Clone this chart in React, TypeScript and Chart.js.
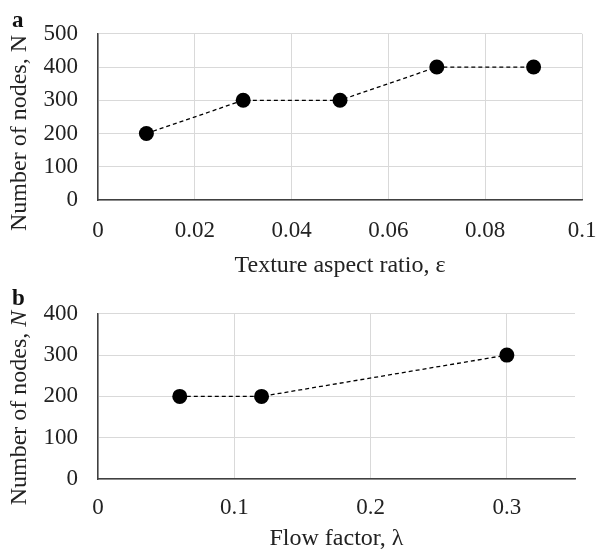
import React, { useEffect, useRef } from "react";
import { Chart, registerables } from "chart.js";

Chart.register(...registerables);

// Panel a data
const aspectRatios = [0.01, 0.03, 0.05, 0.07, 0.09];
const nodesA = [200, 300, 300, 400, 400];
const xTicksA = [0, 0.02, 0.04, 0.06, 0.08, 0.1];
const yTicksA = [0, 100, 200, 300, 400, 500];

// Panel b data
const flowFactors = [0.06, 0.12, 0.3];
const nodesB = [200, 200, 300];
const xTicksB = [0, 0.1, 0.2, 0.3];
const yTicksB = [0, 100, 200, 300, 400];

const FONT = "'Liberation Serif', 'Times New Roman', serif";

const fmt = (v: number) => String(Number(Number(v).toFixed(4)));

const panelTextPlugin = {
  id: "panelText",
  afterDraw(chart: any, _args: any, opts: any) {
    const ctx = chart.ctx;
    ctx.save();
    // panel letter
    ctx.fillStyle = "#111";
    ctx.font = `bold 23px ${FONT}`;
    ctx.textAlign = "left";
    ctx.textBaseline = "alphabetic";
    ctx.fillText(opts.letter, 12, opts.letterBaseline);
    // rotated y title
    ctx.translate(opts.titleX, opts.titleY);
    ctx.rotate(-Math.PI / 2);
    ctx.textBaseline = "middle";
    ctx.fillStyle = "#222";
    const normalFont = `24px ${FONT}`;
    const italicFont = `italic 24px ${FONT}`;
    ctx.font = normalFont;
    const w1 = ctx.measureText(opts.titleMain).width;
    ctx.font = opts.italicN ? italicFont : normalFont;
    const w2 = ctx.measureText(opts.titleVar).width;
    const start = -(w1 + w2) / 2;
    ctx.font = normalFont;
    ctx.fillText(opts.titleMain, start, 0);
    ctx.font = opts.italicN ? italicFont : normalFont;
    ctx.fillText(opts.titleVar, start + w1, 0);
    ctx.restore();
  },
};

function makeConfig(p: {
  xs: number[];
  ys: number[];
  xTicks: number[];
  yTicks: number[];
  xMax: number;
  yMax: number;
  xTitle: string;
  rightPad: number;
  axisHeight: number;
  xTickPad: number;
  xTitlePadBottom: number;
  letter: string;
  letterBaseline: number;
  titleY: number;
  italicN: boolean;
}) {
  return {
    type: "scatter" as const,
    data: {
      datasets: [
        {
          data: p.xs.map((x, i) => ({ x, y: p.ys[i] })),
          showLine: true,
          borderColor: "#000",
          borderWidth: 1.3,
          borderDash: [4, 3],
          pointRadius: 7.5,
          pointHoverRadius: 7.5,
          pointBackgroundColor: "#000",
          pointBorderColor: "#000",
          pointBorderWidth: 0,
        },
      ],
    },
    options: {
      animation: false,
      responsive: false,
      events: [],
      layout: { padding: { left: 0, right: p.rightPad, top: 32, bottom: 0 } },
      plugins: {
        legend: { display: false },
        tooltip: { enabled: false },
        panelText: {
          letter: p.letter,
          letterBaseline: p.letterBaseline,
          titleX: 20,
          titleY: p.titleY,
          titleMain: "Number of nodes, ",
          titleVar: "N",
          italicN: p.italicN,
        },
      },
      scales: {
        x: {
          type: "linear",
          min: 0,
          max: p.xMax,
          afterBuildTicks: (scale: any) => {
            scale.ticks = p.xTicks.map((v) => ({ value: v }));
          },
          afterFit: (scale: any) => {
            scale.height = p.axisHeight;
            scale.paddingLeft = 0;
            scale.paddingRight = 0;
          },
          grid: { color: "#d9d9d9", lineWidth: 1, drawTicks: false },
          border: { display: true, color: "#404040", width: 1.5 },
          ticks: {
            padding: p.xTickPad,
            color: "#222",
            font: { family: FONT, size: 23 },
            maxRotation: 0,
            autoSkip: false,
            callback: (v: any) => fmt(v),
          },
          title: {
            display: true,
            text: p.xTitle,
            color: "#222",
            font: { family: FONT, size: 24 },
            padding: { top: 0, bottom: p.xTitlePadBottom },
          },
        },
        y: {
          type: "linear",
          min: 0,
          max: p.yMax,
          afterBuildTicks: (scale: any) => {
            scale.ticks = p.yTicks.map((v) => ({ value: v }));
          },
          afterFit: (scale: any) => {
            scale.width = 98;
          },
          grid: { color: "#d9d9d9", lineWidth: 1, drawTicks: false },
          border: { display: true, color: "#404040", width: 1.5 },
          ticks: {
            padding: 20,
            color: "#222",
            font: { family: FONT, size: 23 },
            callback: (v: any) => fmt(v),
          },
        },
      },
    },
    plugins: [panelTextPlugin],
  };
}

function ChartCanvas({ config, width, height }: { config: any; width: number; height: number }) {
  const ref = useRef<HTMLCanvasElement | null>(null);
  useEffect(() => {
    if (!ref.current) return;
    const chart = new Chart(ref.current, config);
    return () => chart.destroy();
  }, []);
  return <canvas ref={ref} width={width} height={height} style={{ display: "block", width, height }} />;
}

export default function App() {
  const configA = makeConfig({
    xs: aspectRatios,
    ys: nodesA,
    xTicks: xTicksA,
    yTicks: yTicksA,
    xMax: 0.1,
    yMax: 500,
    xTitle: "Texture aspect ratio, ε",
    rightPad: 14,
    axisHeight: 80,
    xTickPad: 17,
    xTitlePadBottom: 0,
    letter: "a",
    letterBaseline: 27,
    titleY: 133,
    italicN: false,
  });
  const configB = makeConfig({
    xs: flowFactors,
    ys: nodesB,
    xTicks: xTicksB,
    yTicks: yTicksB,
    xMax: 0.35,
    yMax: 400,
    xTitle: "Flow factor, λ",
    rightPad: 21,
    axisHeight: 78,
    xTickPad: 15,
    xTitlePadBottom: 4,
    letter: "b",
    letterBaseline: 25,
    titleY: 128,
    italicN: true,
  });
  return (
    <div style={{ position: "absolute", left: 0, top: 0, width: 596, height: 557, background: "#fff" }}>
      <ChartCanvas config={configA} width={596} height={280} />
      <ChartCanvas config={configB} width={596} height={277} />
    </div>
  );
}
